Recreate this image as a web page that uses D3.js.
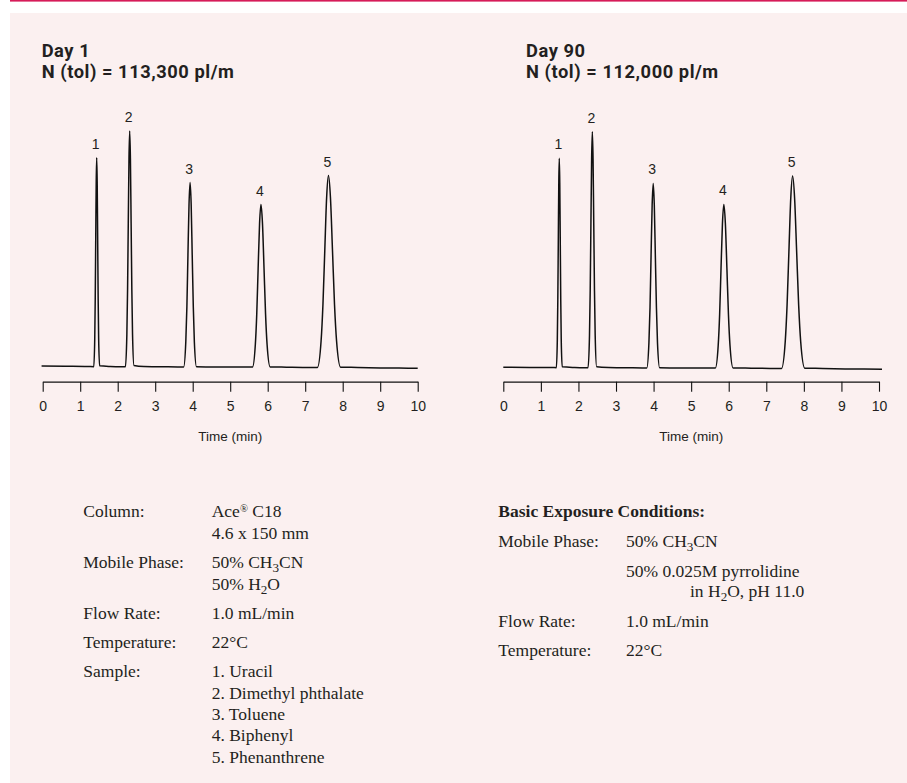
<!DOCTYPE html>
<html><head><meta charset="utf-8">
<script src="https://cdn.jsdelivr.net/npm/d3@7"></script>
<style>body{margin:0;background:#fff}svg{display:block}</style>
</head><body>
<svg id="c" width="907" height="783"></svg>
<script>
// ---------------- DATA ----------------
const timeTicks = [0, 1, 2, 3, 4, 5, 6, 7, 8, 9, 10];
const peakLabels = ["1", "2", "3", "4", "5"];
const axisTitle = "Time (min)";

const day1Title = ["Day 1", "N (tol) = 113,300 pl/m"];
const day1PeakTimes = [1.44, 2.32, 3.93, 5.82, 7.62];
const day1PeakHeights = [88.7, 100, 78.1, 68.8, 81.1];
// trace: [time (min), signal (% of largest peak)]
const day1Trace = [
  [-0.03, 0.3], [0.6, 0.2], [1.2, 0.1], [1.362, 0], [1.388, 12.0], [1.401, 28.8], [1.414, 53.8], [1.427, 78.3], [1.44, 88.7],
  [1.453, 78.3], [1.466, 53.8], [1.479, 28.8], [1.492, 12.0], [1.518, 0.4], [1.8, 0.1], [2.1, 0],
  [2.206, 0], [2.244, 13.5], [2.263, 32.5], [2.282, 60.7], [2.301, 88.3], [2.32, 100], [2.339, 88.3], [2.358, 60.7],
  [2.377, 32.5], [2.396, 13.5], [2.434, 0.5], [2.7, 0.1], [3.2, 0], [3.6, -0.1],
  [3.759, -0.1], [3.816, 10.6], [3.845, 25.4], [3.873, 47.4], [3.902, 68.9], [3.93, 78.1], [3.959, 68.9], [3.987, 47.4],
  [4.016, 25.4], [4.044, 10.6], [4.101, 0], [4.6, -0.1], [5.3, -0.1],
  [5.595, -0.1], [5.67, 9.3], [5.708, 22.3], [5.745, 41.7], [5.783, 60.7], [5.82, 68.8], [5.861, 60.7], [5.902, 41.7],
  [5.943, 22.3], [5.984, 9.3], [6.066, -0.1], [6.5, -0.2], [7.0, -0.3],
  [7.326, -0.3], [7.424, 11.0], [7.473, 26.3], [7.522, 49.2], [7.571, 71.6], [7.62, 81.1], [7.674, 71.6], [7.728, 49.2],
  [7.782, 26.3], [7.836, 11.0], [7.944, -0.2], [8.4, -0.3], [9.0, -0.5], [9.5, -0.6], [10.0, -0.7]
];

const day90Title = ["Day 90", "N (tol) = 112,000 pl/m"];
const day90PeakTimes = [1.49, 2.37, 3.99, 5.87, 7.70];
const day90PeakHeights = [88.7, 100, 78.1, 69.2, 81.2];
const day90Trace = [
  [0, 0.2], [0.7, 0.1], [1.3, 0.1], [1.412, 0], [1.438, 12.0], [1.451, 28.8], [1.464, 53.8], [1.477, 78.3], [1.49, 88.7],
  [1.503, 78.3], [1.516, 53.8], [1.529, 28.8], [1.542, 12.0], [1.568, 0.4], [1.9, 0.1], [2.15, 0],
  [2.256, 0], [2.294, 13.5], [2.313, 32.5], [2.332, 60.7], [2.351, 88.3], [2.37, 100], [2.389, 88.3], [2.408, 60.7],
  [2.427, 32.5], [2.446, 13.5], [2.484, 0.4], [2.8, 0.1], [3.3, 0], [3.7, -0.1],
  [3.819, -0.1], [3.876, 10.6], [3.905, 25.4], [3.933, 47.4], [3.962, 68.9], [3.99, 78.1], [4.019, 68.9], [4.047, 47.4],
  [4.076, 25.4], [4.104, 10.6], [4.161, 0], [4.7, -0.1], [5.4, -0.1],
  [5.645, -0.1], [5.72, 9.4], [5.758, 22.5], [5.795, 42.0], [5.833, 61.1], [5.87, 69.2], [5.911, 61.1], [5.952, 42.0],
  [5.993, 22.5], [6.034, 9.4], [6.116, -0.1], [6.6, -0.2], [7.1, -0.3],
  [7.406, -0.3], [7.504, 11.0], [7.553, 26.4], [7.602, 49.2], [7.651, 71.7], [7.70, 81.2], [7.754, 71.7], [7.808, 49.2],
  [7.862, 26.4], [7.916, 11.0], [8.024, -0.2], [8.5, -0.3], [9.1, -0.5], [9.6, -0.6], [10.08, -0.7]
];

// condition text ( _{x} = subscript, ^{x} = superscript )
const leftLabels = ["Column:", "", "Mobile Phase:", "", "Flow Rate:", "Temperature:", "Sample:", "", "", "", ""];
const leftValues = ["Ace^{®} C18", "4.6 x 150 mm", "50% CH_{3}CN", "50% H_{2}O", "1.0 mL/min", "22°C",
  "1. Uracil", "2. Dimethyl phthalate", "3. Toluene", "4. Biphenyl", "5. Phenanthrene"];
const leftBaselines = [517.3, 539.3, 568.3, 590, 619.3, 647.7, 676.7, 699, 720, 741, 762.7];

const rightHeading = "Basic Exposure Conditions:";
const rightLabels = ["Mobile Phase:", "", "", "Flow Rate:", "Temperature:"];
const rightValues = ["50% CH_{3}CN", "50% 0.025M pyrrolidine", "in H_{2}O, pH 11.0", "1.0 mL/min", "22°C"];
const rightBaselines = [546.7, 576.7, 597.3, 626.7, 655.7];
const rightIndent = [0, 0, 1, 0, 0];

// ---------------- DRAW ----------------
const svg = d3.select("#c");
const ink = "#231f20";
const sans = "'Liberation Sans', Arial, Helvetica, sans-serif";

svg.append("rect").attr("x", 10).attr("y", 13).attr("width", 897).attr("height", 770).attr("fill", "#fbf0f0");
svg.append("rect").attr("x", 10).attr("y", 0).attr("width", 897).attr("height", 1.6).attr("fill", "#d61c59");

const panels = [
  { title: day1Title, trace: day1Trace, pt: day1PeakTimes, ph: day1PeakHeights, x0: 42.7, x1: 417.7, base: 366.7, top: 131, titleX: 41.7 },
  { title: day90Title, trace: day90Trace, pt: day90PeakTimes, ph: day90PeakHeights, x0: 503.3, x1: 879, base: 367.7, top: 131.7, titleX: 526 }
];
const axisY = 381.7;

panels.forEach(p => {
  const x = d3.scaleLinear().domain([0, 10]).range([p.x0, p.x1]);
  const y = d3.scaleLinear().domain([0, 100]).range([p.base, p.top]);
  const g = svg.append("g");

  const tt = g.append("text").attr("x", p.titleX).attr("y", 56.8)
    .attr("font-family", "Roboto, 'Open Sans', sans-serif").attr("font-weight", 700).attr("font-size", 18.3)
    .attr("letter-spacing", 0.55).attr("fill", ink);
  tt.append("tspan").attr("x", p.titleX).attr("y", 56.8).text(p.title[0]);
  tt.append("tspan").attr("x", p.titleX).attr("y", 78.4).text(p.title[1]);

  const line = d3.line().x(d => x(d[0])).y(d => y(d[1])).curve(d3.curveMonotoneX);
  g.append("path").datum(p.trace).attr("d", line).attr("fill", "none")
    .attr("stroke", "#111").attr("stroke-width", 1.5).attr("stroke-linejoin", "round");

  g.selectAll(".pl").data(peakLabels).enter().append("text")
    .attr("x", (d, i) => x(p.pt[i]) - 1).attr("y", (d, i) => y(p.ph[i]) - 9)
    .attr("text-anchor", "middle").text(d => d)
    .attr("font-family", sans).attr("font-size", 14).attr("fill", ink);

  const ax = g.append("g").attr("transform", `translate(0,${axisY})`)
    .call(d3.axisBottom(x).tickValues(timeTicks).tickFormat(d3.format("d")).tickSize(10).tickSizeOuter(0).tickPadding(9.5));
  ax.attr("font-size", 14).attr("font-family", sans);
  ax.select(".domain").attr("stroke", "#111").attr("stroke-width", 1.3);
  ax.selectAll(".tick line").attr("stroke", "#111").attr("stroke-width", 1.1);
  ax.selectAll(".tick text").attr("font-family", sans).attr("font-size", 14).attr("fill", ink);

  g.append("text").attr("x", (p.x0 + p.x1) / 2).attr("y", 440.5).attr("text-anchor", "middle").text(axisTitle)
    .attr("font-family", sans).attr("font-size", 13.5).attr("fill", ink);
});

function richText(sel, str) {
  const parts = str.split(/(_\{[^}]*\}|\^\{[^}]*\})/).filter(s => s.length);
  let shift = 0;
  parts.forEach(s => {
    if (s.startsWith("_{")) {
      sel.append("tspan").attr("dy", 4 - shift).attr("font-size", "0.75em").text(s.slice(2, -1));
      shift = 4;
    } else if (s.startsWith("^{")) {
      sel.append("tspan").attr("dy", -5 - shift).attr("font-size", "0.6em").text(s.slice(2, -1));
      shift = -5;
    } else {
      sel.append("tspan").attr("dy", -shift).text(s);
      shift = 0;
    }
  });
}

const serif = "'Liberation Serif', 'Times New Roman', serif";
const tb = svg.append("g").attr("font-family", serif).attr("font-size", 17.5).attr("fill", ink);

leftLabels.forEach((l, i) => {
  if (l) tb.append("text").attr("x", 83.3).attr("y", leftBaselines[i]).text(l);
});
leftValues.forEach((v, i) => {
  richText(tb.append("text").attr("x", 211.7).attr("y", leftBaselines[i]), v);
});

tb.append("text").attr("x", 498.3).attr("y", 517.3).attr("font-weight", 700).text(rightHeading);
rightLabels.forEach((l, i) => {
  if (l) tb.append("text").attr("x", 498.3).attr("y", rightBaselines[i]).text(l);
});
rightValues.forEach((v, i) => {
  richText(tb.append("text").attr("x", rightIndent[i] ? 690 : 626).attr("y", rightBaselines[i]), v);
});
</script></body></html>
